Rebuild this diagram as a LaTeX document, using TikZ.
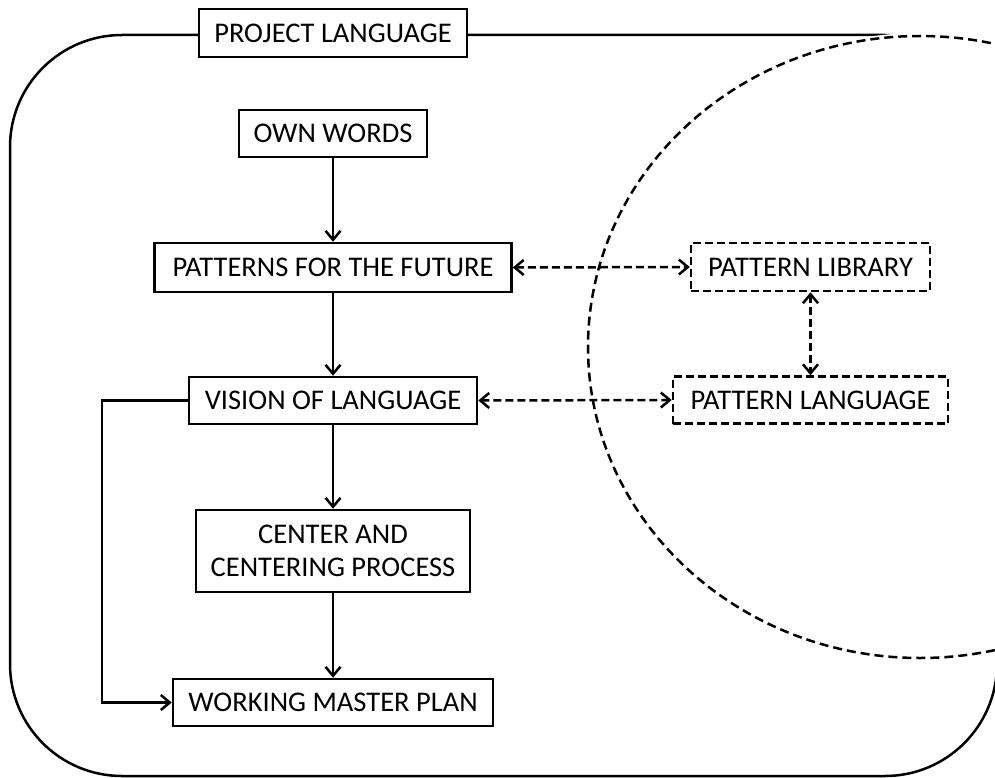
\documentclass[tikz,border=0pt]{standalone}
\usepackage{fontspec}
\setmainfont{Carlito}
\usetikzlibrary{arrows.meta}
\begin{document}
\begin{tikzpicture}[x=1pt,y=-1pt,line width=2.5pt,
	box/.style={draw,fill=white,line width=2.5pt,inner sep=0pt,align=center,
		font=\fontsize{28.5}{33}\selectfont},
	dbox/.style={box,dash pattern=on 8pt off 4pt},
	tip/.style={-{Straight Barb[length=9pt,width=15pt]}},
	dtip/.style={{Straight Barb[length=9pt,width=15pt]}-{Straight Barb[length=9pt,width=15pt]},
		dash pattern=on 8pt off 4pt}]
	\useasboundingbox (0,0) rectangle (995,778);
	\clip (0,0) rectangle (995,778);
	\draw[rounded corners=112pt] (10,35) rectangle (997,776);
	\fill[white] (920,347) ellipse [x radius=334pt, y radius=314pt];
	\draw[dash pattern=on 9pt off 5pt] (920,347) ellipse [x radius=332pt, y radius=311pt];
	\node[box,minimum width=268pt,minimum height=48pt] (proj) at (333,33) {PROJECT LANGUAGE};
	\node[box,minimum width=188pt,minimum height=47pt] (own) at (333,133.5) {OWN WORDS};
	\node[box,minimum width=357pt,minimum height=49pt] (future) at (333,267.5) {PATTERNS FOR THE FUTURE};
	\node[box,minimum width=288pt,minimum height=47pt] (vision) at (333,400.5) {VISION OF LANGUAGE};
	\node[box,minimum width=274pt,minimum height=82pt] (center) at (333,551) {CENTER AND\\CENTERING PROCESS};
	\node[box,minimum width=320pt,minimum height=47pt] (master) at (333,702.5) {WORKING MASTER PLAN};
	\node[dbox,minimum width=239pt,minimum height=48pt] (library) at (810.5,267) {PATTERN LIBRARY};
	\node[dbox,minimum width=275pt,minimum height=47pt] (planguage) at (810.5,400) {PATTERN LANGUAGE};
	\coordinate (bend) at (102,400.5);
	\draw[tip] (own) -- (future);
	\draw[tip] (future) -- (vision);
	\draw[tip] (vision) -- (center);
	\draw[tip] (center) -- (master);
	\draw[tip] (vision.west) -- (bend) |- (master.west);
	\draw[dtip] (future.east) -- (library.west);
	\draw[dtip] (vision.east) -- (planguage.west);
	\draw[dtip] (library.south) -- (planguage.north);
\end{tikzpicture}
\end{document}
